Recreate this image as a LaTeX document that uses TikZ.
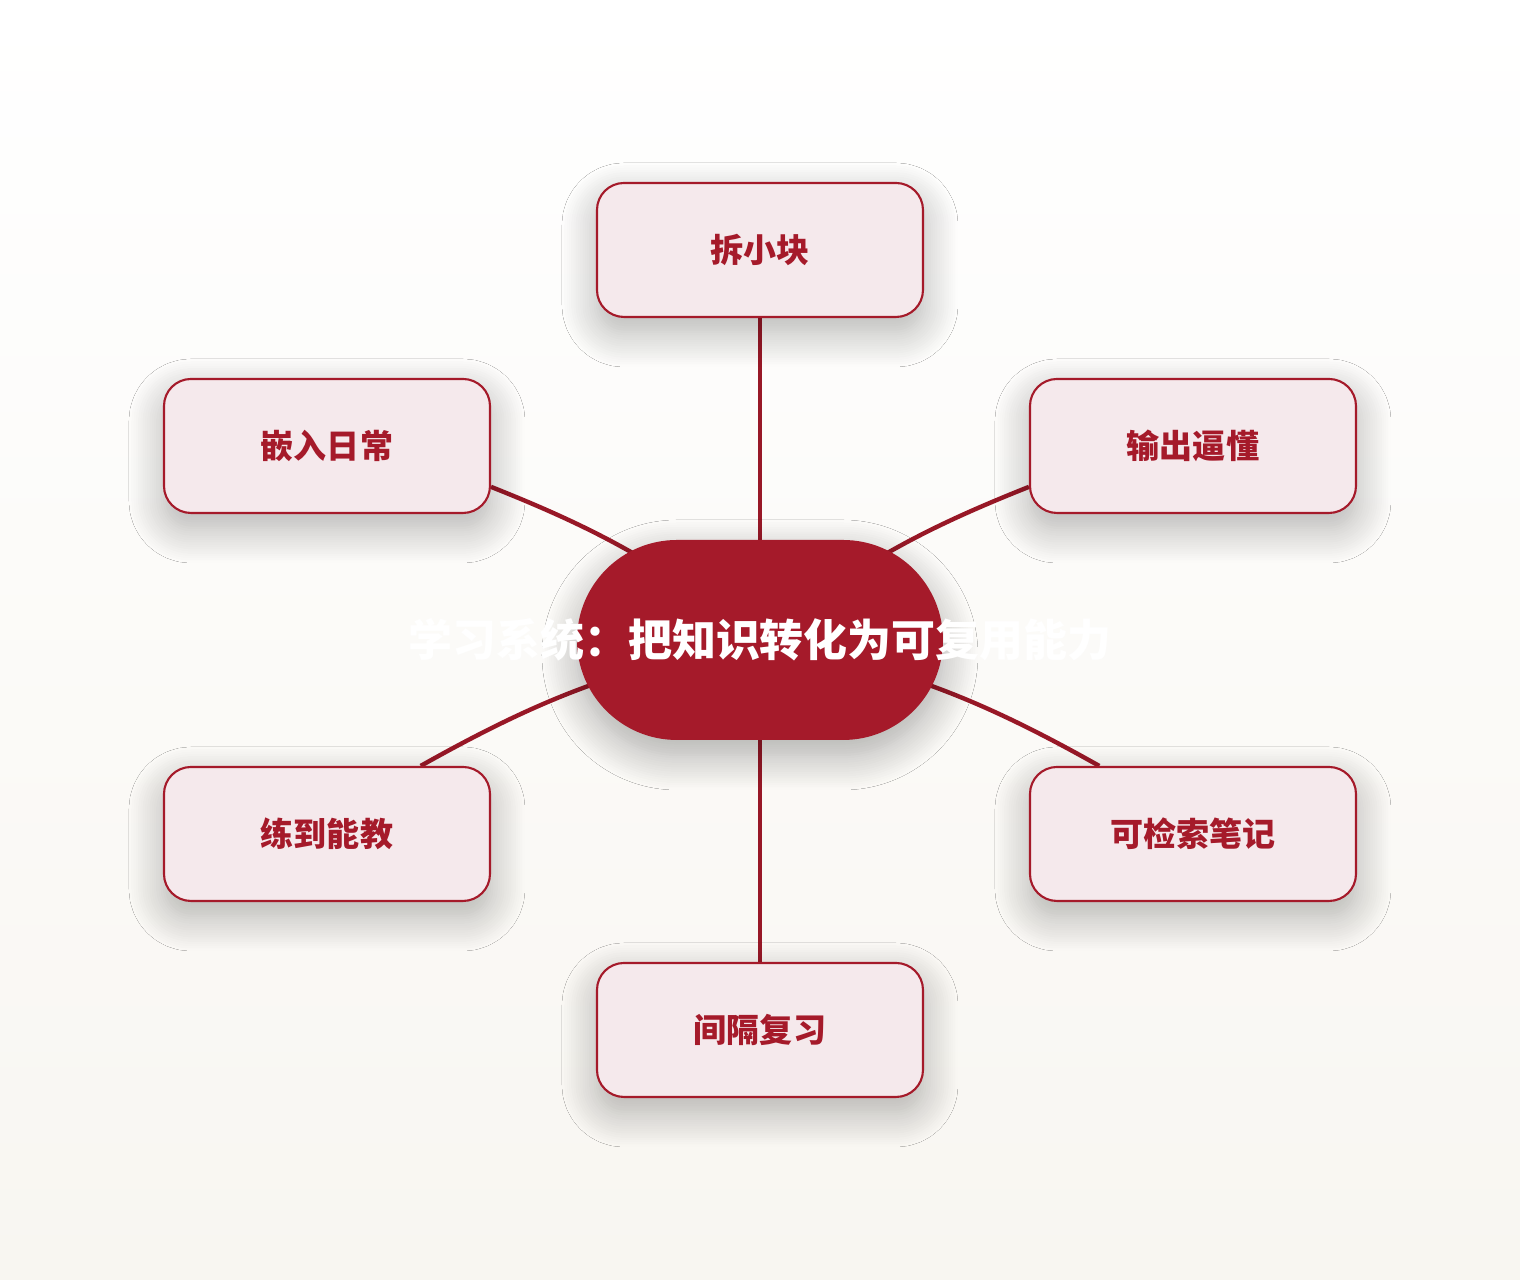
\documentclass[tikz,border=0pt]{standalone}
\usepackage{fontspec}
\newfontfamily\cjk{Noto Sans CJK SC}
\usepackage{tikz}
\usetikzlibrary{shadows.blur,backgrounds}
\definecolor{crimson}{HTML}{A51A2A}
\definecolor{blush}{HTML}{F5E9EC}
\definecolor{paper}{HTML}{F8F6F1}

\tikzset{
  leaf/.style={draw=crimson, line width=0.6pt, fill=blush, rounded corners=0.27cm,
    minimum width=3.26cm, minimum height=1.34cm, text=crimson,
    font=\cjk\bfseries\fontsize{9.4}{11}\selectfont,
    blur shadow={shadow xshift=0pt, shadow yshift=-0.15cm, shadow blur radius=0.35cm,
      shadow blur steps=16, shadow opacity=30}},
  hub/.style={fill=crimson, rounded corners=1cm, minimum width=3.66cm, minimum height=2cm,
    text=white, font=\cjk\bfseries\fontsize{12.5}{15}\selectfont,
    blur shadow={shadow xshift=0pt, shadow yshift=-0.15cm, shadow blur radius=0.35cm,
      shadow blur steps=16, shadow opacity=32}},
  spoke/.style={draw=crimson!92!black, line width=1.25pt},
}

\begin{document}
\begin{tikzpicture}
%offsets of the outer boxes
\newcommand*{\Dx}{4.33}
\newcommand*{\Dy}{1.94}
\useasboundingbox (-7.6,-6.4) rectangle (7.6,6.4);
%hub and steps
\node[hub] (core) at (0,0) {\makebox[0pt]{学习系统：把知识转化为可复用能力}};
\node[leaf] (split) at (0,2*\Dy+0.02) {拆小块};
\node[leaf] (teach) at (\Dx,\Dy) {输出逼懂};
\node[leaf] (notes) at (\Dx,-\Dy) {可检索笔记};
\node[leaf] (review) at (0,-2*\Dy-0.02) {间隔复习};
\node[leaf] (drill) at (-\Dx,-\Dy) {练到能教};
\node[leaf] (daily) at (-\Dx,\Dy) {嵌入日常};
%page and spokes
\begin{scope}[on background layer]
\fill[top color=white, bottom color=paper] (-7.6,-6.4) rectangle (7.6,6.4);
\draw[spoke] (split.south) -- (core.center);
\draw[spoke] (review.north) -- (core.center);
\draw[spoke] (daily.-14) to[bend left=8] (core.center);
\draw[spoke] (teach.194) to[bend right=8] (core.center);
\draw[spoke] (drill.36) to[bend left=9] (core.center);
\draw[spoke] (notes.144) to[bend right=9] (core.center);
\end{scope}
\end{tikzpicture}
\end{document}
